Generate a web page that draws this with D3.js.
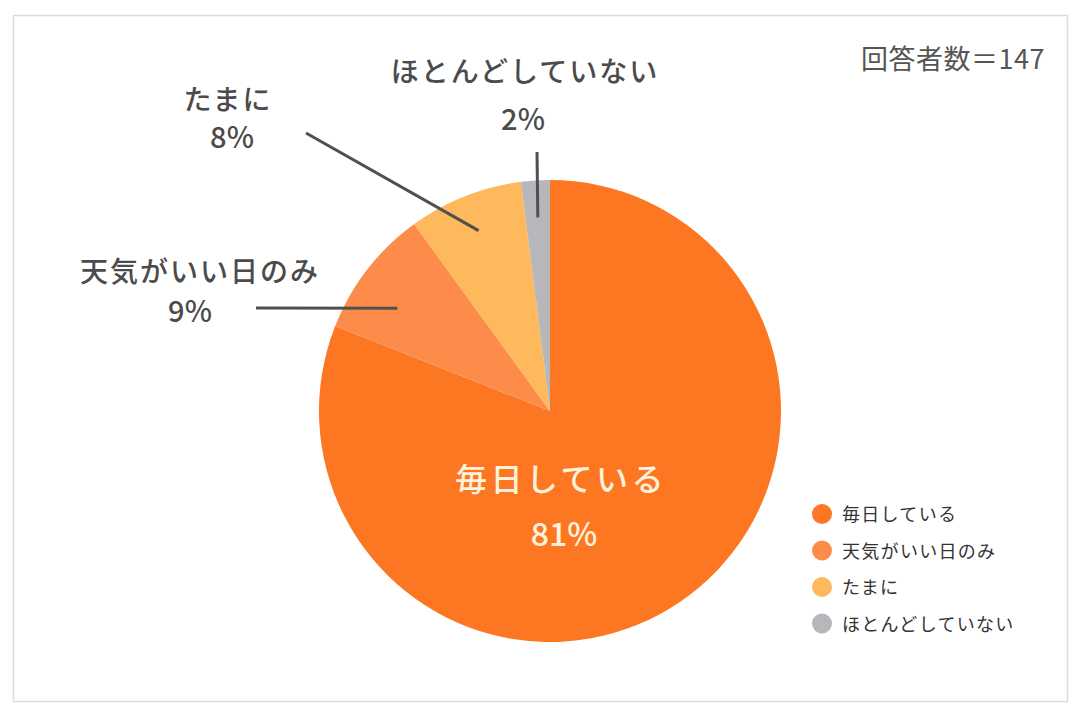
<!DOCTYPE html>
<html>
<head>
<meta charset="utf-8">
<script src="https://cdn.jsdelivr.net/npm/d3@7"></script>
<style>
  body { margin: 0; background: #fff; }
  text { font-family: "Noto Sans CJK JP", "Noto Sans", sans-serif; }
</style>
</head>
<body>
<svg width="1080" height="720"></svg>
<script>
// answers, share in percent (n = 147)
var categories = ['毎日している', '天気がいい日のみ', 'たまに', 'ほとんどしていない'];
var values = [81, 9, 8, 2];
var colors = ['#fd7622', '#fd8c4a', '#fdb95b', '#b7b6bb'];
var total = '回答者数＝147';

var svg = d3.select('svg');
var width = +svg.attr('width');
var height = +svg.attr('height');

// frame
svg.append('rect')
  .attr('x', 13.5).attr('y', 15.5)
  .attr('width', 1054).attr('height', 686)
  .attr('fill', '#fff')
  .attr('stroke', '#dcdcdc')
  .attr('stroke-width', 1.5);

var cx = 550, cy = 411, radius = 231;
var g = svg.append('g').attr('transform', 'translate(' + cx + ',' + cy + ')');

var slices = values.map(function(v, i) { return { name: categories[i], value: v, i: i }; });
var pie = d3.pie().sort(null).value(function(d) { return d.value; });
var arc = d3.arc().innerRadius(0).outerRadius(radius);
var arcs = pie(slices);

g.selectAll('path.slice')
  .data(arcs)
  .enter()
  .append('path')
  .attr('class', 'slice')
  .attr('d', arc)
  .attr('fill', function(d) { return colors[d.data.i]; });

var polar = function(a, r) { return [Math.sin(a) * r, -Math.cos(a) * r]; };

// outside labels: t = position inside the slice, r = where the leader starts
var outside = [
  { i: 1, t: 0.38, r: 184, end: [256, 308], lx: 200, ly: 282, px: 190, py: 322 },
  { i: 2, t: 0.5,  r: 194, end: [306, 133], lx: 228, ly: 110, px: 232, py: 148 },
  { i: 3, t: 0.5,  r: 194, end: [537, 152], lx: 525, ly: 82,  px: 523, py: 130 }
];

outside.forEach(function(o) {
  var d = arcs[o.i];
  var a = d.startAngle + o.t * (d.endAngle - d.startAngle);
  var p = polar(a, o.r);
  svg.append('line')
    .attr('x1', o.end[0]).attr('y1', o.end[1])
    .attr('x2', cx + p[0]).attr('y2', cy + p[1])
    .attr('stroke', '#505050')
    .attr('stroke-width', 3);
  svg.append('text')
    .attr('x', o.lx).attr('y', o.ly)
    .attr('text-anchor', 'middle')
    .attr('font-size', 28)
    .attr('font-weight', 500)
    .attr('letter-spacing', 2)
    .attr('fill', '#4b4b4b')
    .text(d.data.name);
  svg.append('text')
    .attr('x', o.px).attr('y', o.py)
    .attr('text-anchor', 'middle')
    .attr('font-size', 29)
    .attr('font-weight', 500)
    .attr('fill', '#4b4b4b')
    .text(d.data.value + '%');
});

// big slice label
var main = arcs[0];
svg.append('text')
  .attr('x', 561).attr('y', 491)
  .attr('text-anchor', 'middle')
  .attr('font-size', 32)
  .attr('font-weight', 500)
  .attr('letter-spacing', 3.5)
  .attr('fill', '#fff2dc')
  .text(main.data.name);
svg.append('text')
  .attr('x', 564).attr('y', 546)
  .attr('text-anchor', 'middle')
  .attr('font-size', 32)
  .attr('font-weight', 500)
  .attr('fill', '#fff2dc')
  .text(main.data.value + '%');

// legend
var legend = svg.append('g').attr('transform', 'translate(822,514)');
var item = legend.selectAll('g')
  .data(slices)
  .enter()
  .append('g')
  .attr('transform', function(d, i) { return 'translate(0,' + (i * 36.5) + ')'; });
item.append('circle')
  .attr('r', 10)
  .attr('fill', function(d) { return colors[d.i]; });
item.append('text')
  .attr('x', 20).attr('y', 7)
  .attr('font-size', 18)
  .attr('letter-spacing', 1.3)
  .attr('fill', '#333')
  .text(function(d) { return d.name; });

svg.append('text')
  .attr('x', 1045).attr('y', 69)
  .attr('text-anchor', 'end')
  .attr('font-size', 27)
  .attr('letter-spacing', 0.5)
  .attr('fill', '#555')
  .text(total);
</script>
</body>
</html>
